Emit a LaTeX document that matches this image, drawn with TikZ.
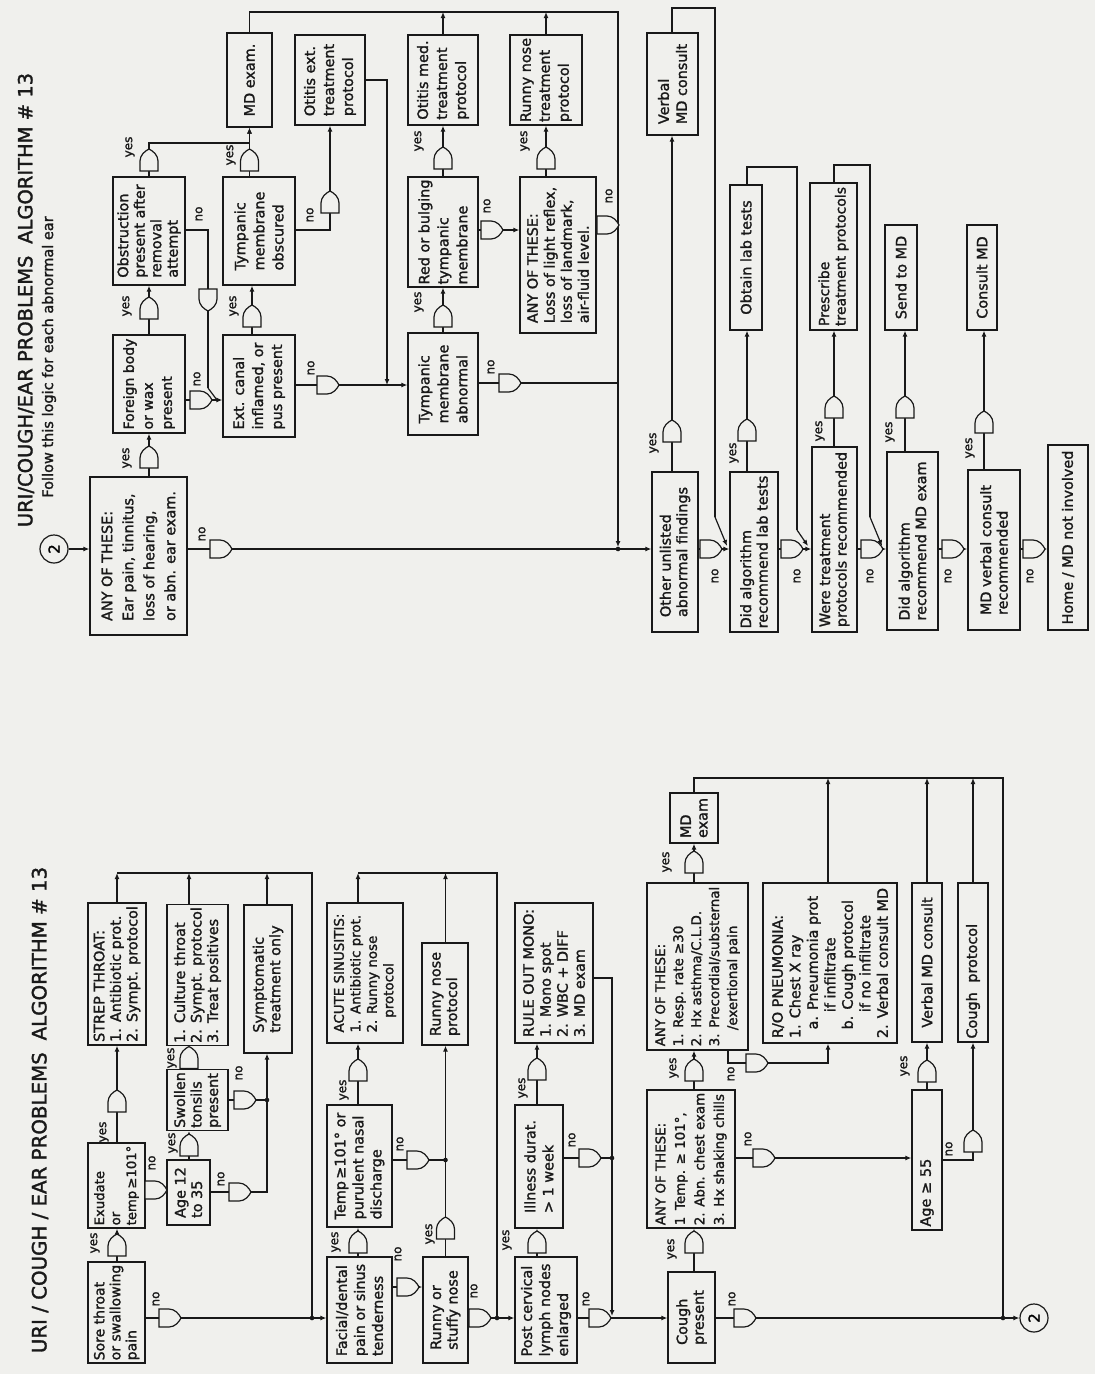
\documentclass[tikz,border=0pt]{standalone}
\usepackage{fontspec}
\setmainfont{DejaVu Sans}[FakeBold=1.6]
\usetikzlibrary{arrows.meta}
\definecolor{bgc}{RGB}{240,240,237}
\definecolor{ink}{RGB}{25,25,25}
\newcommand\bx{\fontsize{14.4}{16.5}\selectfont}
\newcommand\bxl[1]{\fontsize{14.4}{#1}\selectfont}
\newcommand\bxs[1]{\fontsize{13.4}{#1}\selectfont}
\newcommand\lb{\fontsize{12}{13}\selectfont}
\begin{document}
\begin{tikzpicture}[x=1pt,y=-1pt,line width=1.2pt,draw=ink,
  box/.style={draw=ink,line width=1.3pt,rotate=90,inner sep=2.5pt,align=left,font=\bx,text=ink},
  lbl/.style={rotate=90,font=\lb,inner sep=0pt,text=ink},
  flow/.style={draw=ink,line width=1.2pt,-{Latex[length=6pt,width=5pt]}},
  ln/.style={draw=ink,line width=1.2pt},
  cnum/.style={draw=ink,circle,line width=1.2pt,minimum size=28,inner sep=0pt,rotate=90,font=\fontsize{15}{15}\selectfont},
  decgate/.pic={\draw[ink,line width=1.2pt,fill=bgc] (-9,11) -- (-9,1) .. controls (-9,-5) and (-4,-9) .. (0,-11) .. controls (4,-9) and (9,-5) .. (9,1) -- (9,11) -- cycle;}
]
\useasboundingbox (0,0) rectangle (1095,1374);
\fill[bgc] (0,0) rectangle (1095,1374);

% ---------------- titles
\node[rotate=90,font=\fontsize{19.5}{22}\selectfont,inner sep=0pt,text=ink] (t1) at (26,300) {URI/COUGH/EAR PROBLEMS\hspace{0.6em}ALGORITHM \# 13};
\node[rotate=90,font=\fontsize{14.5}{16}\selectfont,inner sep=0pt,text=ink] (t2) at (49,357) {Follow this logic for each abnormal ear};
\node[rotate=90,font=\fontsize{19.8}{22}\selectfont,inner sep=0pt,text=ink] (t3) at (40,1110) {URI / COUGH / EAR PROBLEMS\hspace{0.6em}ALGORITHM \# 13};

% ---------------- top (ear) boxes
\node[cnum] (c2a) at (54,549) {2};
\node[box,minimum width=158,minimum height=97,font=\bxl{21}] (anyE) at (138.5,556) {ANY OF THESE:\\Ear pain, tinnitus,\\loss of hearing,\\or abn. ear exam.};
\node[box,minimum width=98,minimum height=72,font=\fontsize{14}{19}\selectfont] (fb) at (149,384) {Foreign body\\or wax\\present};
\node[box,minimum width=108,minimum height=72] (obs) at (149,231) {Obstruction\\present after\\removal\\attempt};
\node[box,minimum width=102,minimum height=72,font=\bxl{19}] (ext) at (259,386) {Ext. canal\\inflamed, or\\pus present};
\node[box,minimum width=108,minimum height=72,font=\bxl{19}] (tmo) at (259,231) {Tympanic\\membrane\\obscured};
\node[box,minimum width=94,minimum height=45] (mdx) at (249.5,80) {MD exam.};
\node[box,minimum width=90,minimum height=70,font=\bxl{19}] (oet) at (330,80) {Otitis ext.\\treatment\\protocol};
\node[box,minimum width=102,minimum height=70,font=\bxl{19}] (tma) at (443,384) {Tympanic\\membrane\\abnormal};
\node[box,minimum width=110,minimum height=70,font=\bxl{19}] (red) at (443,232) {Red or bulging\\tympanic\\membrane};
\node[box,minimum width=90,minimum height=70,font=\bxl{19}] (omt) at (443,80) {Otitis med.\\treatment\\protocol};
\node[box,minimum width=156,minimum height=76,font=\bxl{17}] (anyL) at (558,255) {ANY OF THESE:\\Loss of light reflex,\\loss of landmark,\\air-fluid level.};
\node[box,minimum width=90,minimum height=72,font=\bxl{19}] (rnt) at (546,80) {Runny nose\\treatment\\protocol};
\node[box,minimum width=102,minimum height=51,font=\bxl{18}] (vmc) at (672.5,84) {Verbal\\MD consult};
\node[box,minimum width=160,minimum height=46] (oth) at (675,552) {Other unlisted\\abnormal findings};
\node[box,minimum width=160,minimum height=48] (dlt) at (754,552) {Did algorithm\\recommend lab tests};
\node[box,minimum width=145,minimum height=32] (olt) at (746,257.5) {Obtain lab tests};
\node[box,minimum width=185,minimum height=45] (wtp) at (834.5,539.5) {Were treatment\\protocols recommended};
\node[box,minimum width=147,minimum height=47,font=\fontsize{14}{16.5}\selectfont] (ptp) at (833.5,256.5) {Prescribe\\treatment protocols};
\node[box,minimum width=178,minimum height=51] (dmd) at (912.5,541) {Did algorithm\\recommend MD exam};
\node[box,minimum width=105,minimum height=32] (smd) at (901,277.5) {Send to MD};
\node[box,minimum width=160,minimum height=52] (mvc) at (994,550) {MD verbal consult\\recommended};
\node[box,minimum width=105,minimum height=30] (cmd) at (982,277.5) {Consult MD};
\node[box,minimum width=185,minimum height=40] (home) at (1068,537.5) {Home / MD not involved};

% ---------------- bottom (URI) boxes
\node[box,minimum width=101,minimum height=57,font=\fontsize{14}{16}\selectfont] (st) at (116.5,1312.5) {Sore throat\\or swallowing\\pain};
\node[box,minimum width=85,minimum height=57,font=\fontsize{13.2}{16}\selectfont] (ex) at (116.5,1185.5) {Exudate\\or\\temp\,≥101°};
\node[box,minimum width=142,minimum height=58] (strep) at (117,974) {STREP THROAT:\\1. Antibiotic prot.\\2. Sympt. protocol};
\node[box,minimum width=65,minimum height=43] (age) at (188.5,1192.5) {Age 12\\to 35};
\node[box,minimum width=60,minimum height=61] (swol) at (197.5,1100) {Swollen\\tonsils\\present};
\node[box,minimum width=140,minimum height=61] (cult) at (197.5,975) {1. Culture throat\\2. Sympt. protocol\\3. Treat positives};
\node[box,minimum width=148,minimum height=48] (sympt) at (268,979) {Symptomatic\\treatment only};
\node[box,minimum width=106,minimum height=65,font=\bxl{18}] (fac) at (359.5,1310) {Facial/dental\\pain or sinus\\tenderness};
\node[box,minimum width=122,minimum height=65,font=\bxl{18}] (temp) at (359.5,1166) {Temp\,≥101° or\\purulent nasal\\discharge};
\node[box,minimum width=140,minimum height=76,font=\bxs{16.5}] (sinus) at (365,973) {ACUTE SINUSITIS:\\1. Antibiotic prot.\\2. Runny nose\\\hspace*{1.1em}protocol};
\node[box,minimum width=106,minimum height=45] (runny) at (445.5,1310) {Runny or\\stuffy nose};
\node[box,minimum width=102,minimum height=46] (rnp) at (445,994) {Runny nose\\protocol};
\node[box,minimum width=106,minimum height=62,font=\bxl{18}] (post) at (546,1310) {Post cervical\\lymph nodes\\enlarged};
\node[box,minimum width=123,minimum height=48,font=\bxl{18}] (ill) at (539,1166.5) {Illness durat.\\> 1 week};
\node[box,minimum width=140,minimum height=78,font=\bxl{17}] (mono) at (554,973) {RULE OUT MONO:\\1. Mono spot\\2. WBC + DIFF\\3. MD exam};
\node[box,minimum width=91,minimum height=47] (cough) at (691.5,1317.5) {Cough\\present};
\node[box,minimum width=138,minimum height=88,font=\bxs{19.5}] (any1) at (691,1159) {ANY OF THESE:\\1\enspace Temp. ≥ 101°,\\2. Abn. chest exam\\3. Hx shaking chills};
\node[box,minimum width=167,minimum height=101,font=\bxs{18}] (any2) at (697.5,966.5) {ANY OF THESE:\\1. Resp. rate ≥30\\2. Hx asthma/C.L.D.\\3. Precordial/substernal\\\hspace*{1.2em}/exertional pain};
\node[box,minimum width=50,minimum height=48] (mdex) at (694,818) {MD\\exam};
\node[box,minimum width=160,minimum height=134,font=\bxl{17.5}] (pneu) at (830,963) {R/O PNEUMONIA:\\1. Chest X ray\\\hspace*{0.6em}a. Pneumonia prot\\\hspace*{1.8em}if infiltrate\\\hspace*{0.6em}b. Cough protocol\\\hspace*{1.8em}if no infiltrate\\2. Verbal consult MD};
\node[box,minimum width=140,minimum height=30,text width=133] (age55) at (927,1160) {Age ≥ 55};
\node[box,minimum width=159,minimum height=30] (vmd) at (927,962.5) {Verbal MD consult};
\node[box,minimum width=159,minimum height=30,text width=152] (cprot) at (973,962.5) {Cough\ \ protocol};
\node[cnum] (c2b) at (1034,1318) {2};

% ================= connectors: top diagram
\draw[flow] (c2a.south) -- (anyE.north |- c2a.south);
\draw[flow] (anyE.east -| 149,0) -- (fb.west -| 149,0);
\draw[flow] (fb.east -| 149,0) -- (obs.west -| 149,0);
\draw[flow] (obs.east -| 149,0) -- (149,143) -- (mdx.west |- 0,143) -- (mdx.west);
\draw[flow] (tmo.east -| mdx.west) -- (mdx.west);
\draw[flow] (ext.east -| 252,0) -- (tmo.west -| 252,0);
\draw[flow] (fb.south |- 0,400) -- (ext.north |- 0,400);
\draw[ln] (obs.south |- 0,230) -- (208,230) -- (208,388);
\draw[ln] (208,388) -- (217,400);
\draw[flow] (ext.south |- 0,385) -- (tma.north |- 0,385);
\draw[flow] (tmo.south |- 0,230) -- (330,230) -- (oet.west);
\draw[flow] (oet.south |- 0,80) -- (387,80) -- (387,385);
\draw[flow] (tma.east) -- (red.west);
\draw[flow] (red.east) -- (omt.west);
\draw[flow] (omt.east) -- (omt.east |- 0,12);
\draw[flow] (red.south |- 0,230) -- (anyL.north |- 0,230);
\draw[flow] (anyL.east -| 546,0) -- (rnt.west);
\draw[flow] (rnt.east) -- (rnt.east |- 0,12);
\draw[ln] (anyL.south |- 0,225) -- (618,225);
\draw[ln] (tma.south |- 0,383) -- (618,383);
\draw[flow] (mdx.east) -- (mdx.east |- 0,12) -- (618,12) -- (618,547);
\draw[flow] (anyE.south |- 0,549) -- (oth.north |- 0,549);
\draw[flow] (oth.east -| 672,0) -- (vmc.west -| 672,0);
\draw[ln] (vmc.east -| 672,0) -- (672,8) -- (715,8) -- (715,517);
\draw[flow] (715,517) -- (727,546);
\draw[flow] (oth.south |- 0,549) -- (dlt.north |- 0,549);
\draw[flow] (dlt.east -| 747,0) -- (olt.west -| 747,0);
\draw[ln] (olt.east -| 747,0) -- (747,167) -- (797,167) -- (797,530);
\draw[flow] (797,530) -- (808,546);
\draw[flow] (dlt.south |- 0,549) -- (wtp.north |- 0,549);
\draw[flow] (wtp.east -| 834,0) -- (ptp.west -| 834,0);
\draw[ln] (ptp.east -| 834,0) -- (834,165) -- (870,165) -- (870,517);
\draw[flow] (870,517) -- (882,546);
\draw[flow] (wtp.south |- 0,549) -- (dmd.north |- 0,549);
\draw[flow] (dmd.east -| 905,0) -- (smd.west -| 905,0);
\draw[flow] (dmd.south |- 0,549) -- (mvc.north |- 0,549);
\draw[flow] (mvc.east -| 984,0) -- (cmd.west -| 984,0);
\draw[flow] (mvc.south |- 0,549) -- (home.north |- 0,549);
\fill[ink] (618,549) circle (2.3);

% ================= connectors: bottom diagram
\draw[flow] (st.east -| 117,0) -- (ex.west -| 117,0);
\draw[flow] (ex.east -| 117,0) -- (strep.west -| 117,0);
\draw[flow] (strep.east -| 117,0) -- (117,873);
\draw[flow] (st.south |- 0,1318) -- (fac.north |- 0,1318);
\draw[flow] (ex.south |- 0,1190) -- (age.north |- 0,1190);
\draw[flow] (age.east -| 189,0) -- (swol.west -| 189,0);
\draw[flow] (swol.east -| 189,0) -- (cult.west -| 189,0);
\draw[flow] (cult.east -| 189,0) -- (189,873);
\draw[flow] (age.south |- 0,1192) -- (267,1192) -- (sympt.west -| 267,0);
\draw[ln] (swol.south |- 0,1100) -- (267,1100);
\draw[flow] (sympt.east -| 267,0) -- (267,873);
\draw[ln] (117,873) -- (312,873) -- (312,1318);
\draw[flow] (fac.east -| 358,0) -- (temp.west -| 358,0);
\draw[flow] (temp.east -| 358,0) -- (sinus.west -| 358,0);
\draw[flow] (sinus.east -| 358,0) -- (358,873);
\draw[ln] (temp.south |- 0,1160) -- (445.5,1160);
\draw[flow] (fac.south |- 0,1287) -- (runny.north |- 0,1287);
\draw[flow] (runny.east) -- (rnp.west -| runny.east);
\draw[flow] (rnp.east -| runny.east) -- (445.5,873);
\draw[ln] (358,873) -- (497,873) -- (497,1318);
\draw[flow] (runny.south |- 0,1318) -- (post.north |- 0,1318);
\draw[flow] (post.east -| 537,0) -- (ill.west -| 537,0);
\draw[flow] (ill.east -| 537,0) -- (mono.west -| 537,0);
\draw[ln] (ill.south |- 0,1158) -- (612,1158);
\draw[flow] (mono.south |- 0,978) -- (612,978) -- (612,1316);
\draw[flow] (post.south |- 0,1318) -- (cough.north |- 0,1318);
\draw[flow] (cough.east -| 694,0) -- (any1.west -| 694,0);
\draw[flow] (any1.east -| 694,0) -- (any2.west -| 694,0);
\draw[flow] (any2.east -| 694,0) -- (mdex.west);
\draw[ln] (mdex.east) -- (mdex.east |- 0,778) -- (1003,778) -- (1003,1318);
\draw[flow] (any2.west -| 728,0) -- (728,1063) -- (828,1063) -- (pneu.west -| 828,0);
\draw[flow] (pneu.east -| 828,0) -- (828,778);
\draw[flow] (any1.south |- 0,1158) -- (age55.north |- 0,1158);
\draw[flow] (age55.east) -- (vmd.west);
\draw[flow] (vmd.east) -- (vmd.east |- 0,778);
\draw[flow] (age55.south |- 0,1160) -- (973,1160) -- (cprot.west);
\draw[flow] (cprot.east) -- (cprot.east |- 0,778);
\draw[flow] (cough.south |- 0,1318) -- (c2b.north);
\foreach \p in {(267,1100),(312,1318),(445.5,1160),(497,1318),(612,1158),(1003,1318)} \fill[ink] \p circle (2.3);

% ================= decision markers
% top
\pic at (149,457) {decgate};
\pic at (149,308) {decgate};
\pic at (149,160) {decgate};
\pic at (249.5,160) {decgate};
\pic at (252,316) {decgate};
\pic[rotate=-90] at (201,400) {decgate};
\pic[rotate=180] at (208,300) {decgate};
\pic[rotate=-90] at (328,385) {decgate};
\pic at (330,202) {decgate};
\pic at (443,316) {decgate};
\pic at (443,158) {decgate};
\pic[rotate=-90] at (492,230) {decgate};
\pic at (546,158) {decgate};
\pic[rotate=-90] at (608,225) {decgate};
\pic[rotate=-90] at (510,383) {decgate};
\pic[rotate=-90] at (221,549) {decgate};
\pic at (672,431) {decgate};
\pic[rotate=-90] at (711,549) {decgate};
\pic at (747,430) {decgate};
\pic[rotate=-90] at (792,549) {decgate};
\pic at (834,407) {decgate};
\pic[rotate=-90] at (872,549) {decgate};
\pic at (905,407) {decgate};
\pic[rotate=-90] at (953,549) {decgate};
\pic at (984,422) {decgate};
\pic[rotate=-90] at (1034,549) {decgate};
% bottom
\pic at (117,1245) {decgate};
\pic at (117,1101) {decgate};
\pic[rotate=-90] at (170,1318) {decgate};
\pic[rotate=-90] at (156,1190) {decgate};
\pic at (189,1145) {decgate};
\pic at (189,1057.5) {decgate};
\pic[rotate=-90] at (240,1192) {decgate};
\pic[rotate=-90] at (245,1100) {decgate};
\pic at (358,1242) {decgate};
\pic at (358,1070) {decgate};
\pic[rotate=-90] at (418,1160) {decgate};
\pic[rotate=-90] at (408,1287) {decgate};
\pic at (445.5,1228) {decgate};
\pic[rotate=-90] at (480,1318) {decgate};
\pic at (537,1242) {decgate};
\pic at (537,1069) {decgate};
\pic[rotate=-90] at (590,1158) {decgate};
\pic[rotate=-90] at (600,1318) {decgate};
\pic at (694,1242) {decgate};
\pic at (694,1070) {decgate};
\pic at (694,862) {decgate};
\pic[rotate=-90] at (757,1063) {decgate};
\pic[rotate=-90] at (764,1158) {decgate};
\pic at (927,1071) {decgate};
\pic at (973,1141) {decgate};
\pic[rotate=-90] at (745,1318) {decgate};

% ================= yes / no labels
% top
\node[lbl] (ya1) at (127,458) {yes};
\node[lbl] (ya2) at (127,306) {yes};
\node[lbl] (ya3) at (130,147) {yes};
\node[lbl] (ya4) at (231,155) {yes};
\node[lbl] (ya5) at (234,306) {yes};
\node[lbl] (na1) at (197,379) {no};
\node[lbl] (na2) at (199,214) {no};
\node[lbl] (na3) at (311,368) {no};
\node[lbl] (na4) at (310,215) {no};
\node[lbl] (ya6) at (419,302) {yes};
\node[lbl] (ya7) at (419,141) {yes};
\node[lbl] (na5) at (487,206) {no};
\node[lbl] (ya8) at (525,141) {yes};
\node[lbl] (na6) at (609,196) {no};
\node[lbl] (na7) at (491,367) {no};
\node[lbl] (na8) at (202,534) {no};
\node[lbl] (ya9) at (654,443) {yes};
\node[lbl] (na9) at (715,576) {no};
\node[lbl] (ya10) at (734,453) {yes};
\node[lbl] (na10) at (797,576) {no};
\node[lbl] (ya11) at (820,431) {yes};
\node[lbl] (na11) at (870,576) {no};
\node[lbl] (ya12) at (890,432) {yes};
\node[lbl] (na12) at (948,576) {no};
\node[lbl] (ya13) at (970,448) {yes};
\node[lbl] (na13) at (1030,576) {no};
% bottom
\node[lbl] (yb1) at (95,1243) {yes};
\node[lbl] (yb2) at (104,1132) {yes};
\node[lbl] (nb1) at (156,1299) {no};
\node[lbl] (nb2) at (152,1163) {no};
\node[lbl] (yb3) at (173,1143) {yes};
\node[lbl] (yb4) at (172,1058) {yes};
\node[lbl] (nb3) at (221,1179) {no};
\node[lbl] (nb4) at (239,1073) {no};
\node[lbl] (yb5) at (336,1242) {yes};
\node[lbl] (yb6) at (344,1090) {yes};
\node[lbl] (nb5) at (400,1144) {no};
\node[lbl] (nb6) at (398,1254) {no};
\node[lbl] (yb7) at (430,1234) {yes};
\node[lbl] (nb7) at (474,1291) {no};
\node[lbl] (yb8) at (507,1240) {yes};
\node[lbl] (yb9) at (523,1088) {yes};
\node[lbl] (nb8) at (572,1140) {no};
\node[lbl] (nb9) at (586,1299) {no};
\node[lbl] (yb10) at (672,1249) {yes};
\node[lbl] (yb11) at (674,1068) {yes};
\node[lbl] (yb12) at (667,862) {yes};
\node[lbl] (nb10) at (731,1074) {no};
\node[lbl] (nb11) at (748,1139) {no};
\node[lbl] (yb13) at (905,1066) {yes};
\node[lbl] (nb12) at (949,1149) {no};
\node[lbl] (nb13) at (732,1299) {no};
\end{tikzpicture}
\end{document}
